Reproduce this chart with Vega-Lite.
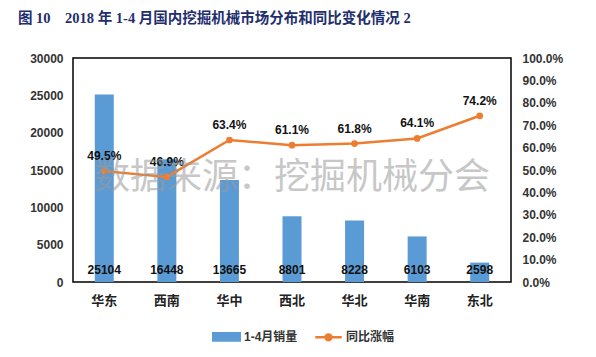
{
  "$schema": "https://vega.github.io/schema/vega-lite/v6.json",
  "autosize": {"type": "none"},
  "padding": {"left": 73, "top": 58, "right": 85, "bottom": 75},
  "width": 438,
  "height": 224,
  "background": "white",
  "title": {
    "text": "图 10\u00a0\u00a0\u00a0\u00a02018 年 1-4 月国内挖掘机械市场分布和同比变化情况 2",
    "anchor": "start",
    "frame": "group",
    "dx": -55,
    "offset": 26,
    "font": "Liberation Serif, Noto Sans CJK SC",
    "fontSize": 14.5,
    "fontWeight": "bold",
    "color": "#1f2f6e"
  },
  "config": {
    "view": {"stroke": "#000000", "strokeWidth": 1.5},
    "axis": {
      "labelFont": "Liberation Sans, Noto Sans CJK SC",
      "labelFontWeight": "bold",
      "labelColor": "#333333",
      "labelFontSize": 12,
      "grid": false,
      "domain": false,
      "ticks": false,
      "title": null
    },
    "legend": {
      "labelFont": "Liberation Sans, Noto Sans CJK SC",
      "labelFontWeight": "bold",
      "labelFontSize": 12,
      "labelColor": "#333333"
    }
  },
  "data": {
    "values": [
      {"region": "华东", "sales": 25104, "rate": 0.495},
      {"region": "西南", "sales": 16448, "rate": 0.469},
      {"region": "华中", "sales": 13665, "rate": 0.634},
      {"region": "西北", "sales": 8801, "rate": 0.611},
      {"region": "华北", "sales": 8228, "rate": 0.618},
      {"region": "华南", "sales": 6103, "rate": 0.641},
      {"region": "东北", "sales": 2598, "rate": 0.742}
    ]
  },
  "encoding": {
    "x": {
      "field": "region",
      "type": "nominal",
      "sort": null,
      "scale": {"paddingInner": 0.7, "paddingOuter": 0.35},
      "axis": {"labelAngle": 0, "labelFontSize": 13, "labelPadding": 12, "labelColor": "#222222"}
    }
  },
  "layer": [
    {
      "layer": [
        {
          "mark": {"type": "bar", "size": 19},
          "encoding": {
            "y": {
              "field": "sales",
              "type": "quantitative",
              "scale": {"domain": [0, 30000]},
              "axis": {"values": [0, 5000, 10000, 15000, 20000, 25000, 30000], "format": "d", "labelPadding": 10, "orient": "left"}
            },
            "color": {
              "datum": "1-4月销量",
              "scale": {"domain": ["1-4月销量", "同比涨幅"], "range": ["#5b9bd5", "#ed7d31"]},
              "legend": {
                "title": null,
                "orient": "none",
                "direction": "horizontal",
                "legendX": 139,
                "legendY": 264,
                "symbolSize": 700,
                "columnPadding": 12,
                "labelOffset": 3,
                "encode": {
                  "symbols": {
                    "update": {
                      "shape": {"signal": "datum.value === '1-4月销量' ? 'M-1,-0.28H1V0.28H-1Z' : 'M-1,0H1M-0.22,0A0.22,0.22,0,1,0,0.22,0A0.22,0.22,0,1,0,-0.22,0'"},
                      "fill": {"scale": "color", "field": "value"},
                      "stroke": {"scale": "color", "field": "value"},
                      "strokeWidth": {"value": 2.5},
                      "opacity": {"value": 1}
                    }
                  }
                }
              }
            }
          }
        },
        {
          "mark": {
            "type": "text",
            "dy": -12,
            "baseline": "middle",
            "font": "Liberation Sans",
            "fontWeight": "bold",
            "fontSize": 12,
            "color": "#111111"
          },
          "encoding": {
            "y": {
              "datum": 0,
              "type": "quantitative",
              "axis": {"values": [0, 5000, 10000, 15000, 20000, 25000, 30000], "format": "d", "labelPadding": 10, "orient": "left"}
            },
            "text": {"field": "sales", "type": "quantitative", "format": "d"}
          }
        }
      ]
    },
    {
      "layer": [
        {
          "mark": {"type": "line", "strokeWidth": 2.5, "point": {"size": 45, "filled": true, "color": "#ed7d31"}},
          "encoding": {
            "y": {
              "field": "rate",
              "type": "quantitative",
              "scale": {"domain": [0, 1]},
              "axis": {"orient": "right", "format": ".1%", "values": [0, 0.1, 0.2, 0.3, 0.4, 0.5, 0.6, 0.7, 0.8, 0.9, 1], "labelPadding": 11}
            },
            "color": {"datum": "同比涨幅"}
          }
        },
        {
          "mark": {
            "type": "text",
            "dy": -15,
            "baseline": "middle",
            "font": "Liberation Sans",
            "fontWeight": "bold",
            "fontSize": 12,
            "color": "#111111"
          },
          "encoding": {
            "y": {
              "field": "rate",
              "type": "quantitative",
              "axis": {"orient": "right", "format": ".1%", "values": [0, 0.1, 0.2, 0.3, 0.4, 0.5, 0.6, 0.7, 0.8, 0.9, 1], "labelPadding": 11}
            },
            "text": {"field": "rate", "type": "quantitative", "format": ".1%"}
          }
        },
        {
          "data": {"values": [{"label": "数据来源：挖掘机械分会", "region": "西北", "pos": 0.464}]},
          "mark": {
            "type": "text",
            "baseline": "middle",
            "align": "center",
            "font": "Noto Sans CJK SC",
            "fontSize": 36,
            "color": "#9a9a9a",
            "opacity": 0.55
          },
          "encoding": {
            "x": {"field": "region", "type": "nominal", "sort": null},
            "y": {
              "field": "pos",
              "type": "quantitative",
              "axis": {"orient": "right", "format": ".1%", "values": [0, 0.1, 0.2, 0.3, 0.4, 0.5, 0.6, 0.7, 0.8, 0.9, 1], "labelPadding": 11}
            },
            "text": {"field": "label"}
          }
        }
      ]
    }
  ],
  "resolve": {"scale": {"y": "independent"}}
}
